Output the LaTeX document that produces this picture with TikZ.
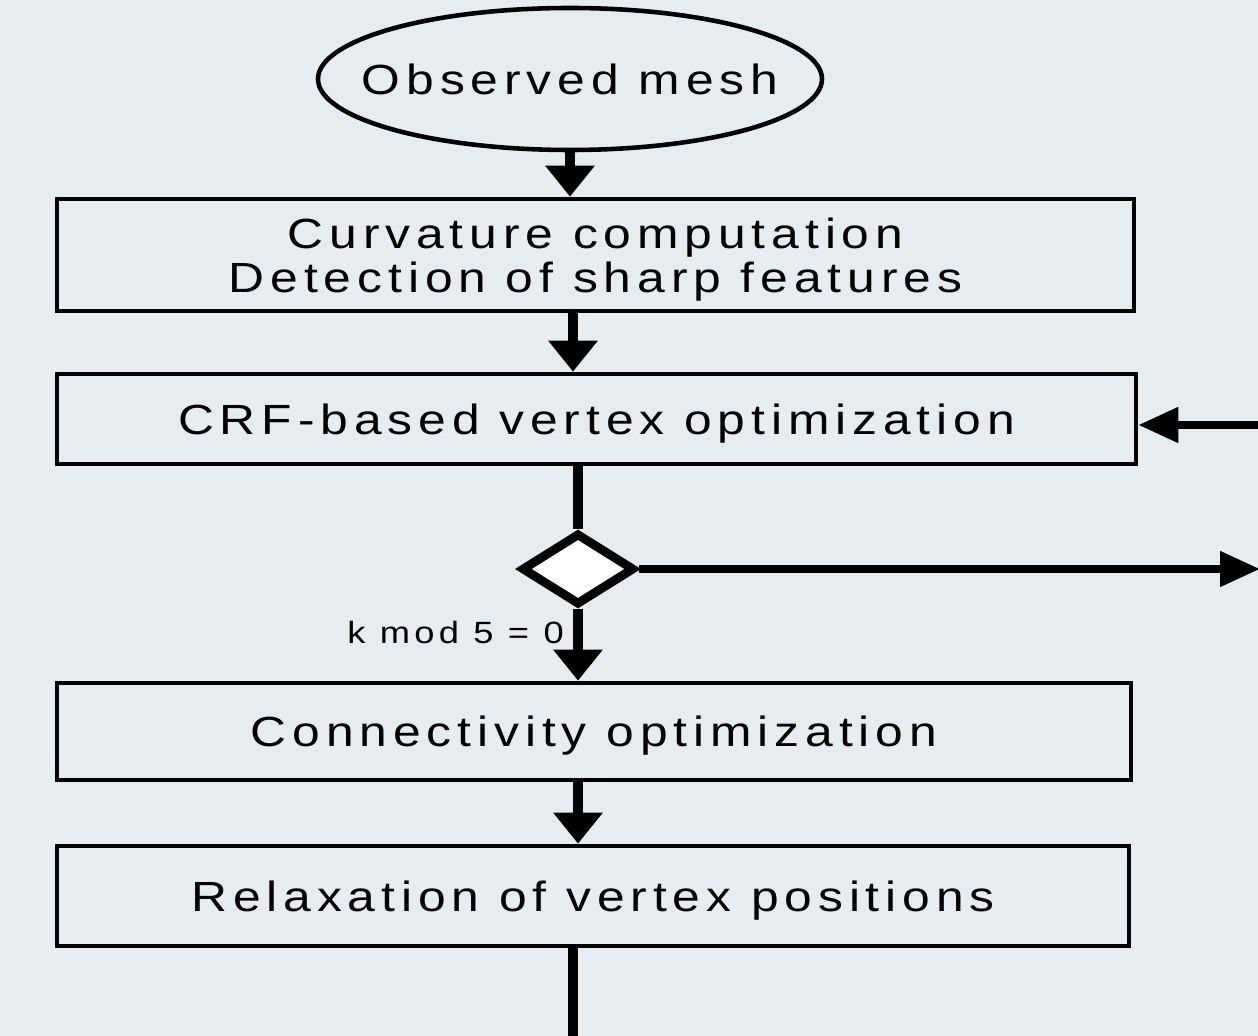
\documentclass[tikz,border=0pt]{standalone}
\usepackage{fontspec}
\setmainfont{Liberation Sans}
\newfontfamily\widefont[FakeStretch=1.18,LetterSpace=14]{Liberation Sans}
\usetikzlibrary{shapes.geometric,arrows.meta}
\definecolor{bgcol}{HTML}{E7ECF0}

\begin{document}
\begin{tikzpicture}[x=1cm,y=1cm,
  stage/.style={draw,line width=2.6pt,inner sep=0pt,align=center,text depth=0pt,
    font=\widefont\fontsize{24}{25}\selectfont},
  flow/.style={line width=5.5pt,-{Triangle[length=0.62cm,width=0.95cm]}},
  sideflow/.style={line width=4.5pt,-{Triangle[length=0.8cm,width=0.68cm]}}]
\path[use as bounding box,fill=bgcol] (0,0) rectangle (25.16,20.72);
\node[stage,ellipse,inner xsep=-3cm,minimum width=10.08cm,minimum height=2.84cm] (obs) at (11.4,19.14) {Observed mesh};
\node[stage,minimum width=21.54cm,minimum height=2.24cm] (curv) at (11.91,15.62)
  {Curvature computation\\Detection of sharp features};
\node[stage,minimum width=21.58cm,minimum height=1.8cm] (crf) at (11.93,12.34) {CRF-based vertex optimization};
\node[draw,diamond,fill=white,line width=5pt,inner sep=0pt,minimum width=2.26cm,minimum height=1.44cm] (dec) at (11.56,9.34) {};
\node[stage,minimum width=21.48cm,minimum height=1.94cm] (conn) at (11.88,6.09) {Connectivity optimization};
\node[stage,minimum width=21.44cm,minimum height=2.0cm] (relax) at (11.86,2.8) {Relaxation of vertex positions};
\coordinate (back) at (25.2,12.22);
\coordinate (out) at (25.2,9.34);
\coordinate (tail) at (11.46,-0.1);

\draw[flow] (obs) -- (obs |- curv.north);
\draw[flow] (curv.south -| tail) -- (crf.north -| tail);
\draw[line width=5.5pt] (crf.south -| dec) -- (dec.north);
\draw[flow] (dec.south) -- (dec |- conn.north)
  node[pos=0.33,left=2pt,font=\widefont\fontsize{17.5}{19}\selectfont] {k mod 5 = 0};
\draw[flow] (conn.south -| dec) -- (relax.north -| dec);
\draw[line width=5.5pt] (relax.south -| tail) -- (tail);
\draw[sideflow] (dec.east) -- (out);
\draw[sideflow] (back) -- (back -| crf.east);
\end{tikzpicture}
\end{document}
